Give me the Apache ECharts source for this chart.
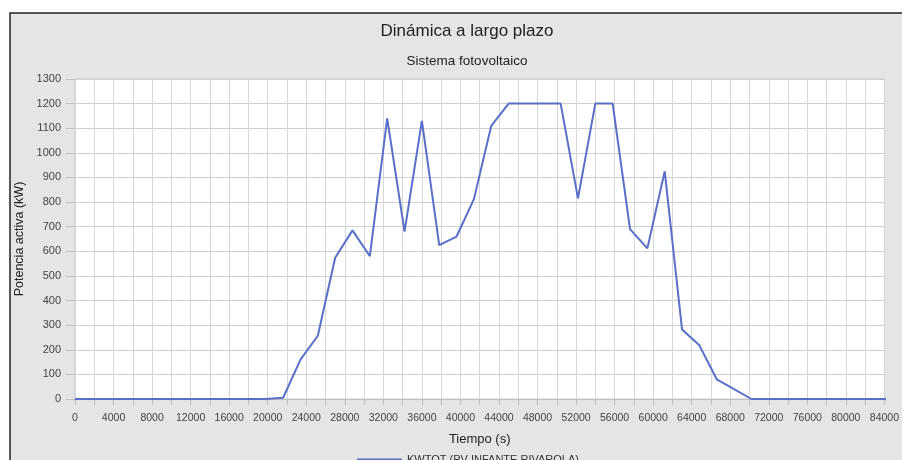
<!DOCTYPE html>
<html><head><meta charset="utf-8">
<script src="https://cdn.jsdelivr.net/npm/echarts@6/dist/echarts.min.js"></script>
<style>html,body{margin:0;padding:0;background:#fff}#c{width:902px;height:460px}</style>
</head><body><div id="c"></div>
<script>
const titleText = 'Dinámica a largo plazo';
const subtitleText = 'Sistema fotovoltaico';
const xName = 'Tiempo (s)';
const yName = 'Potencia activa (kW)';
const seriesName = 'KWTOT (PV INFANTE RIVAROLA)';
const times = [0,1800,3600,5400,7200,9000,10800,12600,14400,16200,18000,19800,
  21600,23400,25200,27000,28800,30600,32400,34200,36000,37800,39600,41400,
  43200,45000,46800,48600,50400,52200,54000,55800,57600,59400,61200,63000,
  64800,66600,68400,70200,72000,73800,75600,77400,79200,81000,82800,84600];
const power = [0,0,0,0,0,0,0,0,0,0,0,0,
  5,160,257,574,685,580,1140,680,1130,625,660,812,
  1110,1200,1200,1200,1200,815,1200,1200,690,612,925,282,
  218,80,40,0,0,0,0,0,0,0,0,0];

const data = times.map((t, i) => [t, power[i]]);
const chart = echarts.init(document.getElementById('c'), null, {renderer: 'canvas'});
const font = 'Liberation Sans, Arial, sans-serif';
chart.setOption({
  backgroundColor: '#ffffff',
  animation: false,
  graphic: [{
    type: 'rect', z: -10, silent: true,
    shape: {x: 10, y: 13, width: 960, height: 500},
    style: {fill: '#e5e5e5', stroke: '#222', lineWidth: 1.5}
  }],
  title: [
    {text: titleText, left: 462, top: 18, textAlign: 'center',
     textStyle: {fontFamily: font, fontSize: 17, fontWeight: 'normal', color: '#222'}},
    {text: subtitleText, left: 462, top: 49, textAlign: 'center',
     textStyle: {fontFamily: font, fontSize: 13.5, fontWeight: 'normal', color: '#222'}}
  ],
  legend: {
    data: [{name: seriesName, icon: 'rect'}], left: 357, top: 454,
    itemWidth: 45, itemHeight: 2, itemGap: 4, padding: 0,
    textStyle: {fontFamily: font, fontSize: 11, color: '#333'}
  },
  grid: {left: 75, right: 14, top: 79, bottom: 61, show: true,
    backgroundColor: '#ffffff', borderColor: '#c8c8c8', borderWidth: 1},
  xAxis: {
    type: 'value', min: 0, max: 84000, interval: 4000,
    name: xName, nameLocation: 'middle', nameGap: 34,
    nameTextStyle: {fontFamily: font, fontSize: 13, color: '#222'},
    axisLine: {show: true, lineStyle: {color: '#c0c0c0'}},
    axisTick: {show: true, length: 6, lineStyle: {color: '#c0c0c0'}},
    minorTick: {show: true, splitNumber: 2, length: 6, lineStyle: {color: '#c0c0c0'}},
    axisLabel: {fontFamily: font, fontSize: 10.5, color: '#444', margin: 14,
      formatter: v => String(v)},
    splitLine: {show: true, lineStyle: {color: '#d6d6d6', width: 1}},
    minorSplitLine: {show: true, lineStyle: {color: '#d6d6d6', width: 1}}
  },
  yAxis: {
    type: 'value', min: 0, max: 1300, interval: 100,
    name: yName, nameLocation: 'middle', nameRotate: 90, nameGap: 46,
    nameTextStyle: {fontFamily: font, fontSize: 12.5, color: '#222'},
    axisLine: {show: false},
    axisTick: {show: true, length: 9, lineStyle: {color: '#c0c0c0'}},
    axisLabel: {fontFamily: font, fontSize: 11, color: '#444', margin: 14,
      formatter: v => String(v)},
    splitLine: {show: true, lineStyle: {color: '#cfcfcf', width: 1}}
  },
  series: [{
    name: seriesName, type: 'line', data: data, showSymbol: false,
    lineStyle: {color: '#5a6fc8', width: 2}, itemStyle: {color: '#5a6fc8'}
  }]
});
</script></body></html>
